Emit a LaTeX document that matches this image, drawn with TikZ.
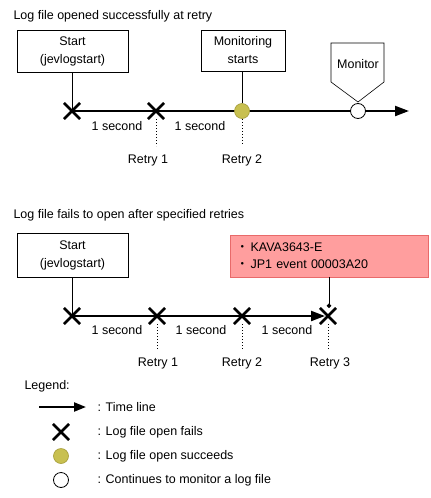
\documentclass[tikz,border=0pt]{standalone}
\usepackage{fontspec}
\setmainfont{Liberation Sans}
\newfontfamily\cjk{Noto Sans CJK JP}
\usepackage{xcolor}
\usetikzlibrary{arrows.meta,shapes.misc}

\definecolor{okfill}{HTML}{C8C050}
\definecolor{okline}{HTML}{A49C38}
\definecolor{errfill}{HTML}{FF9E9E}
\definecolor{errline}{HTML}{E86A6A}

\begin{document}
\begin{tikzpicture}[x=1pt,y=-1pt,
  every node/.style={font=\fontsize{12.5}{18}\selectfont},
  box/.style={rectangle,draw=black,fill=white,line width=0.8pt,align=center,minimum width=111pt,minimum height=43pt},
  fail/.style={cross out,draw=black,line width=2.6pt,minimum size=13.5pt,inner sep=0pt},
  okmark/.style={circle,draw=okline,fill=okfill,line width=0.6pt,minimum size=15pt,inner sep=0pt},
  watch/.style={circle,draw=black,fill=white,line width=0.8pt,minimum size=15pt,inner sep=0pt},
  tline/.style={line width=2.2pt,-{Triangle[length=14pt,width=10pt]}},
  tick/.style={line width=0.7pt,dash pattern=on 1pt off 2pt}]
  \useasboundingbox (0,0) rectangle (431,498);

  % first case
  \node[anchor=west] (title1) at (10,16) {Log file opened successfully at retry};
  \node[box,minimum height=42pt] (start1) at (72.5,51) {Start\\(jevlogstart)};
  \node[box,minimum width=84pt,minimum height=41pt] (mstart) at (243,50.5) {Monitoring\\starts};
  \coordinate (p0) at (72,111);
  \coordinate (p4) at (409,111);
  \draw[tline] (p0) -- (p4);
  \node[fail] (a0) at (p0) {};
  \node[fail] (a1) at (156,111) {};
  \node[okmark] (a2) at (242,111) {};
  \node[watch] (a3) at (358,111) {};
  \draw[line width=0.8pt] (start1.south -| a0) -- (a0.center);
  \draw[line width=0.8pt] (mstart.south -| a2) -- (a2);
  \node (mon) at (358,64) {Monitor};
  \draw[line width=0.6pt] (331,43) -- (384,43) -- (384,82) -- (358,102) -- (331,82) -- cycle;
  \node (s1) at (117,126) {1 second};
  \node (s2) at (200,126) {1 second};
  \draw[tick] (a1.south) -- +(0,27);
  \draw[tick] (a2.south) -- +(0,26);
  \node (r1) at (148,160) {Retry 1};
  \node (r2) at (242,160) {Retry 2};

  % second case
  \node[anchor=west] (title2) at (10,215) {Log file fails to open after specified retries};
  \node[box,minimum height=44pt] (start2) at (72.5,255.5) {Start\\(jevlogstart)};
  \node[rectangle,draw=errline,fill=errfill,line width=0.8pt,align=left,text width=186pt,inner xsep=6pt,minimum height=42pt,font=\fontsize{12.5}{17}\selectfont] (err) at (329,256)
    {{\cjk ・}\,KAVA3643-E\\{\cjk ・}\,JP1 event 00003A20};
  \coordinate (q0) at (72,316);
  \coordinate (q3) at (325,316);
  \draw[tline] (q0) -- (q3);
  \node[fail] (b0) at (q0) {};
  \node[fail] (b1) at (157,316) {};
  \node[fail] (b2) at (242,316) {};
  \node[fail] (b3) at (328,316) {};
  \draw[line width=0.8pt] (start2.south -| b0) -- (b0.center);
  \draw[line width=0.8pt,-{Circle[length=4.5pt]}] (err.south) -- (err.south |- b3.north);
  \node (s3) at (117,330) {1 second};
  \node (s4) at (201,330) {1 second};
  \node (s5) at (287,330) {1 second};
  \draw[tick] (b1.south) -- +(0,26);
  \draw[tick] (b2.south) -- +(0,26);
  \draw[tick] (b3.south) -- +(0,26);
  \node (r3) at (158,363) {Retry 1};
  \node (r4) at (242,363) {Retry 2};
  \node (r5) at (330,363) {Retry 3};

  % legend
  \node[anchor=west] (leg) at (21,386) {Legend:};
  \coordinate (l0) at (39,407);
  \coordinate (l1) at (86,407);
  \draw[tline,-{Triangle[length=12pt,width=9pt]}] (l0) -- (l1);
  \node[fail] (lx) at (61,432) {};
  \node[okmark] (lok) at (61,456) {};
  \node[watch] (lw) at (61,480) {};
  \node[anchor=west] (t1) at (94,407) {: Time line};
  \node[anchor=west] (t2) at (94,432) {: Log file open fails};
  \node[anchor=west] (t3) at (94,456) {: Log file open succeeds};
  \node[anchor=west] (t4) at (94,480) {: Continues to monitor a log file};
\end{tikzpicture}
\end{document}
